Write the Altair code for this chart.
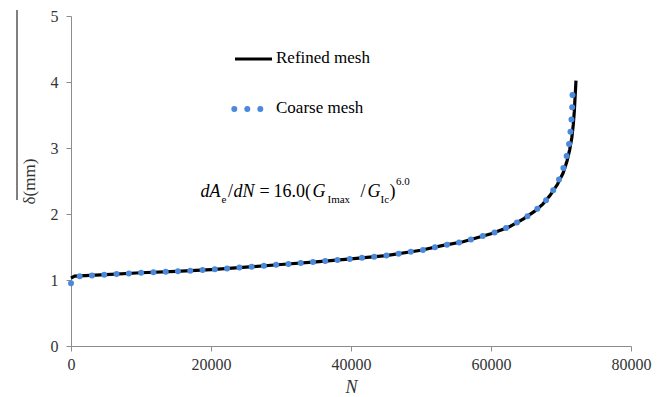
import altair as alt
import pandas as pd

# Refined mesh curve (N, delta in mm)
refined_N = [0, 500, 5000, 10000, 15000, 20000, 25000, 30000, 35000, 40000, 45000,
             50000, 53000, 56000, 60000, 62500, 64700, 66200, 67400, 68500, 69500,
             70300, 70850, 71250, 71550, 71750, 71900, 72000, 72080, 72140]
refined_d = [1.03, 1.06, 1.08, 1.11, 1.13, 1.157, 1.195, 1.235, 1.275, 1.32, 1.37,
             1.45, 1.52, 1.58, 1.70, 1.80, 1.93, 2.04, 2.15, 2.29, 2.45,
             2.62, 2.80, 2.98, 3.16, 3.35, 3.55, 3.75, 3.90, 4.02]

# Coarse mesh curve
coarse_N = [0, 700, 5000, 10000, 15000, 20000, 25000, 30000, 35000, 40000, 45000,
            50000, 53000, 56000, 60000, 62500, 64700, 66200, 67400, 68500, 69380,
            70100, 70620, 71040, 71290, 71430, 71570, 71620, 71670, 71680]
coarse_d = [0.95, 1.055, 1.08, 1.11, 1.13, 1.157, 1.195, 1.235, 1.275, 1.32, 1.37,
            1.45, 1.52, 1.58, 1.70, 1.80, 1.93, 2.04, 2.15, 2.29, 2.45,
            2.61, 2.80, 2.98, 3.16, 3.35, 3.53, 3.71, 3.90, 3.95]

x_ticks = [0, 20000, 40000, 60000, 80000]
y_ticks = [0, 1, 2, 3, 4, 5]

SERIF = "Liberation Serif"
BLUE = "#4A89DC"

ref_df = pd.DataFrame({"N": refined_N, "d": refined_d, "i": range(len(refined_N))})
coa_df = pd.DataFrame({"N": coarse_N, "d": coarse_d, "i": range(len(coarse_N))})

xenc = alt.X("N:Q", scale=alt.Scale(domain=[0, 80000], nice=False),
             axis=alt.Axis(values=x_ticks, title="N", titleFontStyle="italic",
                           titleFontWeight="normal", titleFont=SERIF, titleFontSize=18,
                           titleColor="#333333", titlePadding=6, format="d",
                           labelFlush=False, labelFont=SERIF, labelFontSize=16,
                           labelColor="#333333", labelPadding=5))
yenc = alt.Y("d:Q", scale=alt.Scale(domain=[0, 5], nice=False),
             axis=alt.Axis(values=y_ticks, title="δ(mm)", titleFont=SERIF,
                           titleFontSize=17, titleFontWeight="normal",
                           titleColor="#333333", titlePadding=12, format="d",
                           labelFlush=False, labelFont=SERIF, labelFontSize=16,
                           labelColor="#333333", labelPadding=8))

refined = alt.Chart(ref_df).mark_line(color="black", strokeWidth=3.2).encode(
    x=xenc, y=yenc, order="i:Q")
coarse = alt.Chart(coa_df).mark_line(
    color=BLUE, strokeWidth=6, strokeDash=[0, 12.3], strokeCap="round"
).encode(x="N:Q", y="d:Q", order="i:Q")

anchor = pd.DataFrame({"a": [0]})
base = alt.Chart(anchor)

# Legend
leg_line = base.mark_rule(color="black", strokeWidth=3).encode(
    x=alt.value(164), x2=alt.value(201), y=alt.value(43))
leg_dots = base.mark_rule(color=BLUE, strokeWidth=6, strokeDash=[0, 13],
                          strokeCap="round").encode(
    x=alt.value(163.3), x2=alt.value(189.5), y=alt.value(93))
leg_t1 = base.mark_text(align="left", baseline="middle", font=SERIF, fontSize=17,
                        color="black").encode(
    x=alt.value(205), y=alt.value(42), text=alt.value("Refined mesh"))
leg_t2 = base.mark_text(align="left", baseline="middle", font=SERIF, fontSize=17,
                        color="black").encode(
    x=alt.value(205), y=alt.value(92), text=alt.value("Coarse mesh"))

# Formula pieces: (text, x, y, size, italic)
pieces = [
    ("dA", 129.5, 181, 18, True),
    ("e", 150.5, 187, 11, False),
    ("/", 157, 181, 18, False),
    ("dN", 162.5, 181, 18, True),
    ("=", 188.5, 181, 18, False),
    ("16.0(", 202.5, 181, 18, False),
    ("G", 241.5, 181, 18, True),
    ("Imax", 256.5, 187, 11, False),
    ("/", 289.5, 181, 18, False),
    ("G", 296.5, 181, 18, True),
    ("Ic", 309.5, 187, 11, False),
    (")", 318.5, 181, 18, False),
    ("6.0", 325, 169, 11, False),
]
formula_layers = []
for t, px, py, fs, it in pieces:
    formula_layers.append(
        base.mark_text(align="left", baseline="alphabetic", font=SERIF, fontSize=fs,
                       fontStyle="italic" if it else "normal", color="black").encode(
            x=alt.value(px), y=alt.value(py), text=alt.value(t)))

# stray vertical bar next to the y title (as in the reference)
bar = base.mark_rule(color="black", strokeWidth=1).encode(
    x=alt.value(-54), y=alt.value(-6), y2=alt.value(184))

chart = alt.layer(refined, coarse, leg_line, leg_dots, leg_t1, leg_t2, bar,
                  *formula_layers).properties(
    width=560, height=330,
    autosize=alt.AutoSizeParams(type="none"),
    padding={"left": 71, "top": 16, "right": 36, "bottom": 51},
).configure_view(stroke=None).configure_axis(
    grid=False, domainColor="#8c8c8c", tickColor="#8c8c8c", tickSize=5,
)

chart.save("out.html", embed_options={"renderer": "svg", "actions": False})
